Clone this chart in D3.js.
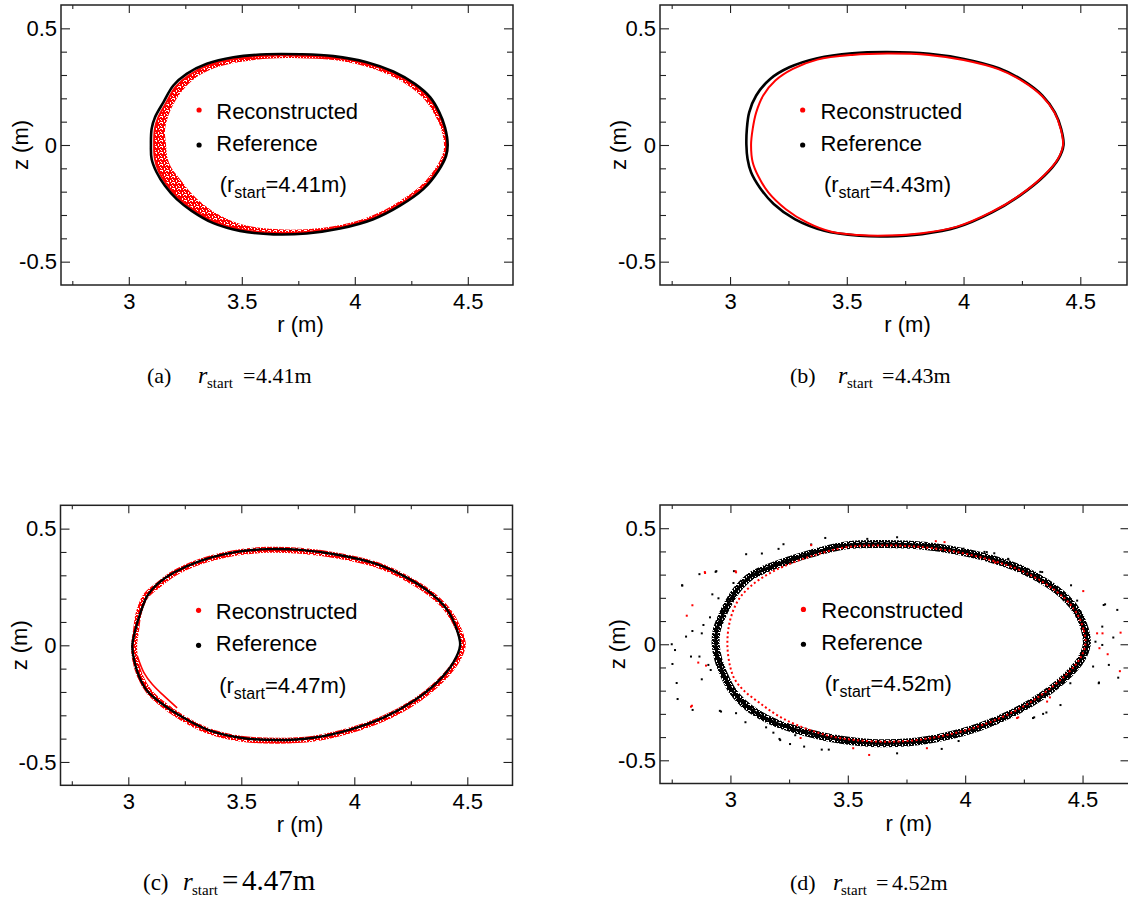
<!DOCTYPE html>
<html>
<head>
<meta charset="utf-8">
<script src="https://cdnjs.cloudflare.com/ajax/libs/d3/7.8.5/d3.min.js"></script>
<style>
  body { margin: 0; background: #fff; }
  svg { display: block; }
</style>
</head>
<body>
<svg id="fig" width="1128" height="910"></svg>
<script>
// ---- axis ticks -------------------------------------------------------
const rMajor = [3, 3.5, 4, 4.5];
const rMinor = [2.75, 3.25, 3.75, 4.25];
const zMajor = [-0.5, 0, 0.5];
const zMinor = [-0.4, -0.3, -0.2, -0.1, 0.1, 0.2, 0.3, 0.4];
const rDomain = [2.7, 4.7];
const zDomain = [-0.6, 0.6];

// ---- (a) r_start = 4.41 m : [r, z] in metres --------------------------
const refA = [[4.411,0],[4.399,0.076],[4.374,0.140],[4.333,0.205],[4.266,0.262],[4.170,0.315],[4.053,0.355],[3.905,0.381],[3.758,0.389],[3.610,0.389],[3.463,0.376],[3.345,0.348],[3.256,0.305],[3.197,0.255],[3.153,0.183],[3.116,0.119],[3.101,0.069],[3.098,0],[3.101,-0.060],[3.123,-0.117],[3.160,-0.175],[3.212,-0.232],[3.278,-0.282],[3.374,-0.335],[3.492,-0.368],[3.640,-0.383],[3.787,-0.379],[3.935,-0.358],[4.082,-0.318],[4.200,-0.260],[4.303,-0.189],[4.370,-0.110],[4.404,-0.046]];
const recAOuter = [[4.407,0],[4.394,0.076],[4.368,0.138],[4.327,0.202],[4.260,0.258],[4.165,0.310],[4.049,0.349],[3.905,0.375],[3.758,0.383],[3.610,0.383],[3.465,0.369],[3.350,0.341],[3.265,0.298],[3.208,0.250],[3.165,0.180],[3.130,0.117],[3.115,0.068],[3.112,0],[3.115,-0.058],[3.133,-0.113],[3.168,-0.170],[3.218,-0.226],[3.283,-0.276],[3.378,-0.329],[3.494,-0.362],[3.640,-0.377],[3.787,-0.373],[3.935,-0.352],[4.078,-0.313],[4.195,-0.256],[4.297,-0.186],[4.365,-0.108],[4.400,-0.045]];
const recAInner = [[4.395,0],[4.381,0.072],[4.352,0.132],[4.310,0.193],[4.245,0.249],[4.152,0.300],[4.040,0.339],[3.905,0.364],[3.758,0.372],[3.610,0.370],[3.470,0.352],[3.360,0.322],[3.285,0.280],[3.235,0.230],[3.195,0.170],[3.170,0.110],[3.160,0.060],[3.165,0],[3.170,-0.050],[3.190,-0.100],[3.230,-0.150],[3.275,-0.205],[3.330,-0.255],[3.410,-0.305],[3.510,-0.343],[3.645,-0.360],[3.787,-0.361],[3.935,-0.343],[4.072,-0.304],[4.187,-0.247],[4.288,-0.178],[4.355,-0.102],[4.388,-0.042]];

// ---- (b) r_start = 4.43 m ----------------------------------------------
const refB = [[4.428,0],[4.418,0.069],[4.391,0.140],[4.338,0.212],[4.256,0.276],[4.151,0.329],[4.002,0.369],[3.852,0.391],[3.673,0.398],[3.523,0.393],[3.374,0.372],[3.254,0.333],[3.172,0.283],[3.112,0.212],[3.082,0.140],[3.072,0.069],[3.070,0],[3.075,-0.060],[3.090,-0.117],[3.127,-0.182],[3.187,-0.253],[3.277,-0.318],[3.404,-0.368],[3.553,-0.389],[3.673,-0.392],[3.822,-0.382],[3.972,-0.353],[4.122,-0.289],[4.241,-0.217],[4.346,-0.132],[4.406,-0.060]];
const recB = [[4.426,0],[4.416,0.069],[4.389,0.140],[4.336,0.210],[4.254,0.273],[4.149,0.325],[4.000,0.364],[3.852,0.386],[3.673,0.392],[3.523,0.386],[3.374,0.366],[3.269,0.326],[3.194,0.276],[3.142,0.212],[3.112,0.140],[3.097,0.069],[3.090,0],[3.097,-0.074],[3.120,-0.132],[3.164,-0.203],[3.239,-0.275],[3.329,-0.332],[3.434,-0.372],[3.553,-0.386],[3.673,-0.388],[3.822,-0.378],[3.972,-0.350],[4.122,-0.286],[4.241,-0.215],[4.344,-0.131],[4.404,-0.060]];

// ---- (c) r_start = 4.47 m ----------------------------------------------
const refC = [[4.468,0],[4.453,0.069],[4.409,0.155],[4.335,0.226],[4.232,0.290],[4.100,0.348],[3.938,0.386],[3.761,0.409],[3.614,0.412],[3.467,0.398],[3.319,0.362],[3.202,0.312],[3.128,0.262],[3.084,0.212],[3.054,0.140],[3.032,0.069],[3.018,0],[3.025,-0.060],[3.047,-0.132],[3.084,-0.196],[3.143,-0.246],[3.231,-0.303],[3.349,-0.361],[3.496,-0.396],[3.658,-0.406],[3.820,-0.396],[3.982,-0.361],[4.129,-0.310],[4.262,-0.239],[4.365,-0.160],[4.438,-0.074]];
const recC = [[4.480,0],[4.461,0.069],[4.412,0.152],[4.337,0.222],[4.234,0.286],[4.102,0.344],[3.938,0.382],[3.761,0.405],[3.614,0.409],[3.467,0.395],[3.319,0.359],[3.202,0.308],[3.132,0.258],[3.078,0.212],[3.047,0.140],[3.035,0.069],[3.026,0],[3.030,-0.060],[3.052,-0.132],[3.090,-0.196],[3.149,-0.250],[3.235,-0.309],[3.349,-0.365],[3.496,-0.400],[3.658,-0.409],[3.820,-0.400],[3.982,-0.365],[4.131,-0.313],[4.264,-0.243],[4.370,-0.162],[4.448,-0.074]];
const recCLoop = [[3.040,-0.046],[3.069,-0.117],[3.106,-0.167],[3.158,-0.217],[3.216,-0.268]];

// ---- (d) r_start = 4.52 m ----------------------------------------------
const refD = [[4.518,0],[4.510,0.064],[4.480,0.136],[4.428,0.201],[4.346,0.265],[4.241,0.322],[4.122,0.365],[3.972,0.401],[3.822,0.424],[3.658,0.432],[3.493,0.426],[3.340,0.390],[3.254,0.363],[3.155,0.327],[3.084,0.291],[3.027,0.234],[2.991,0.177],[2.963,0.119],[2.942,0.062],[2.937,0],[2.949,-0.068],[2.970,-0.125],[3.006,-0.197],[3.055,-0.254],[3.112,-0.297],[3.198,-0.341],[3.283,-0.369],[3.434,-0.405],[3.598,-0.425],[3.763,-0.422],[3.912,-0.398],[4.062,-0.356],[4.211,-0.292],[4.331,-0.220],[4.436,-0.134],[4.495,-0.063]];
const recD = [[4.512,0],[4.504,0.064],[4.474,0.136],[4.422,0.199],[4.340,0.262],[4.236,0.318],[4.118,0.360],[3.972,0.396],[3.822,0.418],[3.658,0.426],[3.493,0.418],[3.340,0.378],[3.226,0.335],[3.155,0.299],[3.084,0.248],[3.034,0.191],[2.999,0.105],[2.987,0.004],[2.999,-0.097],[3.020,-0.154],[3.062,-0.204],[3.126,-0.254],[3.198,-0.305],[3.283,-0.348],[3.434,-0.398],[3.598,-0.418],[3.763,-0.416],[3.912,-0.393],[4.062,-0.352],[4.211,-0.288],[4.328,-0.216],[4.430,-0.131],[4.489,-0.062]];
const strayRefD = [[2.795,0.253],[2.868,0.302],[2.937,0.312],[3.067,0.388],[3.134,0.391],[3.226,0.431],[3.205,0.411],[3.013,0.264],[2.923,0.215],[2.949,0.198],[2.913,0.116],[2.885,0.083],[2.878,0.047],[2.838,0.057],[2.811,0.033],[2.750,0.000],[2.764,-0.025],[2.753,-0.085],[2.832,-0.053],[2.868,-0.053],[2.906,-0.089],[2.878,-0.151],[2.916,-0.111],[2.771,-0.167],[2.775,-0.236],[2.839,-0.283],[2.960,-0.290],[3.024,-0.297],[3.064,-0.336],[3.152,-0.358],[3.183,-0.381],[3.212,-0.413],[3.314,-0.441],[3.276,-0.392],[4.590,0.169],[4.648,0.148],[4.631,0.029],[4.584,0.076],[4.612,-0.089],[4.652,-0.144],[4.569,-0.168],[4.545,-0.096],[4.406,-0.262],[4.332,-0.300],[4.289,-0.318],[4.448,-0.168],[4.477,0.188],[4.467,0.157],[4.420,0.190],[4.320,0.312],[4.309,0.274],[4.261,0.309],[4.183,0.368],[4.124,0.392],[4.082,0.398],[3.993,0.412],[4.584,-0.003],[4.555,0.011],[3.972,-0.417],[3.404,0.458],[3.344,0.430],[3.583,0.454],[3.710,0.461],[3.830,0.437],[4.092,0.397],[4.184,0.365],[4.328,0.311],[4.451,0.254],[4.596,0.172],[3.015,0.315],[2.940,0.315],[2.794,0.254],[3.389,-0.454],[3.419,-0.454],[3.710,-0.470],[3.900,-0.451],[4.294,-0.315],[4.346,-0.294],[4.570,-0.165],[2.955,-0.287],[3.209,-0.408],[3.254,-0.430]];
const strayRecD = [[2.892,0.307],[2.838,0.168],[2.814,0.123],[3.024,0.310],[2.863,-0.079],[2.896,-0.092],[2.832,-0.269],[4.662,0.050],[4.607,-0.043],[4.659,-0.116],[4.572,-0.017],[4.585,0.047],[4.562,0.047],[4.221,-0.318],[4.349,-0.247],[4.128,0.352],[3.591,-0.477],[3.523,-0.448],[3.837,-0.448],[4.226,-0.315],[4.361,-0.229],[3.299,-0.404],[2.836,-0.265],[2.891,0.311],[3.022,0.315],[3.344,0.427],[3.875,0.444],[3.912,0.440],[4.503,0.229]];

// ---- caption texts ------------------------------------------------------
const tags = ["(a)", "(b)", "(c)", "(d)"];
const rStartValues = ["4.41", "4.43", "4.47", "4.52"];

// ---- fig layout ---------------------------------------------------------
const RED = "#ff0000";
const SANS = "'Liberation Sans', Arial, Helvetica, sans-serif";
const SERIF = "'Liberation Serif', 'Times New Roman', serif";

const panels = [
  { key: "a", x0: 61,  x1: 513,   y0: 5,   y1: 285,
    cap: { tag: 147, r: 198, sub: 207, eq: 243, val: 256, base: 383, fs: 22, vfs: 22 } },
  { key: "b", x0: 660, x1: 1127, y0: 5,  y1: 285,
    cap: { tag: 790, r: 838, sub: 847, eq: 882, val: 895, base: 383, fs: 22, vfs: 22 } },
  { key: "c", x0: 60.5, x1: 512.5, y0: 505.3, y1: 785.3,
    cap: { tag: 143, r: 183, sub: 192, eq: 222, val: 242, base: 890, fs: 23, vfs: 29 } },
  { key: "d", x0: 660, x1: 1129.5, y0: 505, y1: 783.5,
    cap: { tag: 790, r: 833, sub: 841, eq: 876, val: 892, base: 890, fs: 22, vfs: 22 } }
];

const svg = d3.select("#fig");
const defs = svg.append("defs");

// dotted texture used for the dense point clouds
function speckle(id, color) {
  const pat = defs.append("pattern").attr("id", id)
    .attr("patternUnits", "userSpaceOnUse").attr("width", 6).attr("height", 6);
  const big = [[0,0],[3,0],[1,2],[4,3],[0,4],[2,4]];
  const small = [[5,1],[3,2],[5,5]];
  pat.selectAll("rect.b").data(big).join("rect").attr("class", "b")
    .attr("x", d => d[0]).attr("y", d => d[1]).attr("width", 2).attr("height", 2).attr("fill", color);
  pat.selectAll("rect.s").data(small).join("rect").attr("class", "s")
    .attr("x", d => d[0]).attr("y", d => d[1]).attr("width", 1).attr("height", 1).attr("fill", color);
}
speckle("speck-red", RED);
speckle("speck-black", "#000");

const closed = (x, y) => d3.line().x(d => x(d[0])).y(d => y(d[1])).curve(d3.curveCatmullRomClosed.alpha(0.5));
const open = (x, y) => d3.line().x(d => x(d[0])).y(d => y(d[1])).curve(d3.curveCatmullRom.alpha(0.5));

panels.forEach((p, i) => {
  const x = d3.scaleLinear().domain(rDomain).range([p.x0, p.x1]);
  const y = d3.scaleLinear().domain(zDomain).range([p.y1, p.y0]);
  const g = svg.append("g").attr("class", "panel-" + p.key);

  defs.append("clipPath").attr("id", "clip-" + p.key)
    .append("rect").attr("x", p.x0).attr("y", p.y0)
    .attr("width", p.x1 - p.x0).attr("height", p.y1 - p.y0);

  const marks = g.append("g").attr("clip-path", `url(#clip-${p.key})`);
  const lineC = closed(x, y);

  if (p.key === "a") {
    marks.append("path")
      .attr("d", lineC(recAOuter) + lineC(recAInner))
      .attr("fill", "url(#speck-red)").attr("fill-rule", "evenodd");
    marks.append("path").attr("d", lineC(recAOuter))
      .attr("fill", "none").attr("stroke", RED).attr("stroke-width", 2);
    marks.append("path").attr("d", lineC(refA))
      .attr("fill", "none").attr("stroke", "#000").attr("stroke-width", 2.6);
  } else if (p.key === "b") {
    marks.append("path").attr("d", lineC(refB))
      .attr("fill", "none").attr("stroke", "#000").attr("stroke-width", 2.6);
    marks.append("path").attr("d", lineC(recB))
      .attr("fill", "none").attr("stroke", RED).attr("stroke-width", 2);
  } else if (p.key === "c") {
    marks.append("path").attr("d", lineC(recC))
      .attr("fill", "none").attr("stroke", "url(#speck-red)").attr("stroke-width", 6);
    marks.append("path").attr("d", open(x, y)(recCLoop))
      .attr("fill", "none").attr("stroke", RED).attr("stroke-width", 1.6);
    marks.append("path").attr("d", lineC(refC))
      .attr("fill", "none").attr("stroke", "#000").attr("stroke-width", 2.4);
  } else {
    marks.append("path").attr("d", lineC(refD))
      .attr("fill", "none").attr("stroke", "url(#speck-black)").attr("stroke-width", 8);
    marks.append("path").attr("d", lineC(refD))
      .attr("fill", "none").attr("stroke", "#000").attr("stroke-width", 3);
    marks.append("path").attr("d", lineC(recD))
      .attr("fill", "none").attr("stroke", RED).attr("stroke-width", 2)
      .attr("stroke-dasharray", "2 2.5");
    marks.selectAll("rect.stray-ref").data(strayRefD).join("rect")
      .attr("class", "stray-ref")
      .attr("x", d => x(d[0]) - 1).attr("y", d => y(d[1]) - 1)
      .attr("width", 2).attr("height", 2).attr("fill", "#000");
    marks.selectAll("rect.stray-rec").data(strayRecD).join("rect")
      .attr("class", "stray-rec")
      .attr("x", d => x(d[0]) - 1).attr("y", d => y(d[1]) - 1)
      .attr("width", 2).attr("height", 2).attr("fill", RED);
  }

  // axes: inward ticks on all sides, labels on bottom and left
  const fmt = d => String(d);
  const styleAxis = a => {
    a.select(".domain").remove();
    a.selectAll(".tick line").attr("stroke", "#222").attr("stroke-width", 1.1);
    a.selectAll("text").attr("font-family", SANS).attr("font-size", 22).attr("fill", "#000");
  };
  g.append("g").attr("transform", `translate(0,${p.y1})`)
    .call(d3.axisBottom(x).tickValues(rMajor).tickSize(-8).tickPadding(8).tickFormat(fmt)).call(styleAxis);
  g.append("g").attr("transform", `translate(0,${p.y1})`)
    .call(d3.axisBottom(x).tickValues(rMinor).tickSize(-4).tickFormat("")).call(styleAxis);
  g.append("g").attr("transform", `translate(0,${p.y0})`)
    .call(d3.axisTop(x).tickValues(rMajor).tickSize(-8).tickFormat("")).call(styleAxis);
  g.append("g").attr("transform", `translate(0,${p.y0})`)
    .call(d3.axisTop(x).tickValues(rMinor).tickSize(-4).tickFormat("")).call(styleAxis);
  g.append("g").attr("transform", `translate(${p.x0},0)`)
    .call(d3.axisLeft(y).tickValues(zMajor).tickSize(-9).tickPadding(4).tickFormat(fmt)).call(styleAxis);
  g.append("g").attr("transform", `translate(${p.x0},0)`)
    .call(d3.axisLeft(y).tickValues(zMinor).tickSize(-6).tickFormat("")).call(styleAxis);
  g.append("g").attr("transform", `translate(${p.x1},0)`)
    .call(d3.axisRight(y).tickValues(zMajor).tickSize(-9).tickFormat("")).call(styleAxis);
  g.append("g").attr("transform", `translate(${p.x1},0)`)
    .call(d3.axisRight(y).tickValues(zMinor).tickSize(-6).tickFormat("")).call(styleAxis);

  g.append("rect").attr("x", p.x0).attr("y", p.y0)
    .attr("width", p.x1 - p.x0).attr("height", p.y1 - p.y0)
    .attr("fill", "none").attr("stroke", "#222").attr("stroke-width", 1.5);

  // axis titles
  g.append("text").attr("x", x(3.76)).attr("y", p.y1 + 47)
    .attr("text-anchor", "middle").attr("font-family", SANS).attr("font-size", 22)
    .text("r (m)");
  g.append("text")
    .attr("transform", `translate(${x(2.518) + 8},${y(0)}) rotate(-90)`)
    .attr("text-anchor", "middle").attr("font-family", SANS).attr("font-size", 22)
    .text("z (m)");

  // legend
  g.append("circle").attr("cx", x(3.311)).attr("cy", y(0.15)).attr("r", 2.6).attr("fill", RED);
  g.append("text").attr("x", x(3.387)).attr("y", y(0.112))
    .attr("font-family", SANS).attr("font-size", 22).text("Reconstructed");
  g.append("circle").attr("cx", x(3.311)).attr("cy", y(0)).attr("r", 2.6).attr("fill", "#000");
  g.append("text").attr("x", x(3.387)).attr("y", y(-0.024))
    .attr("font-family", SANS).attr("font-size", 22).text("Reference");
  const note = g.append("text").attr("x", x(3.402)).attr("y", y(-0.203))
    .attr("font-family", SANS).attr("font-size", 22);
  note.append("tspan").text("(r");
  note.append("tspan").attr("font-size", 16).attr("dy", 6).text("start");
  note.append("tspan").attr("dy", -6).text("=" + rStartValues[i] + "m)");

  // caption
  const c = p.cap;
  const cap = svg.append("g").attr("font-family", SERIF).attr("fill", "#000");
  cap.append("text").attr("x", c.tag).attr("y", c.base).attr("font-size", c.fs).text(tags[i]);
  cap.append("text").attr("x", c.r).attr("y", c.base).attr("font-size", c.fs + 2)
    .attr("font-style", "italic").text("r");
  cap.append("text").attr("x", c.sub).attr("y", c.base + 5).attr("font-size", 15).text("start");
  cap.append("text").attr("x", c.eq).attr("y", c.base).attr("font-size", c.vfs).text("=");
  cap.append("text").attr("x", c.val).attr("y", c.base).attr("font-size", c.vfs).text(rStartValues[i] + "m");
});
</script>
</body>
</html>
